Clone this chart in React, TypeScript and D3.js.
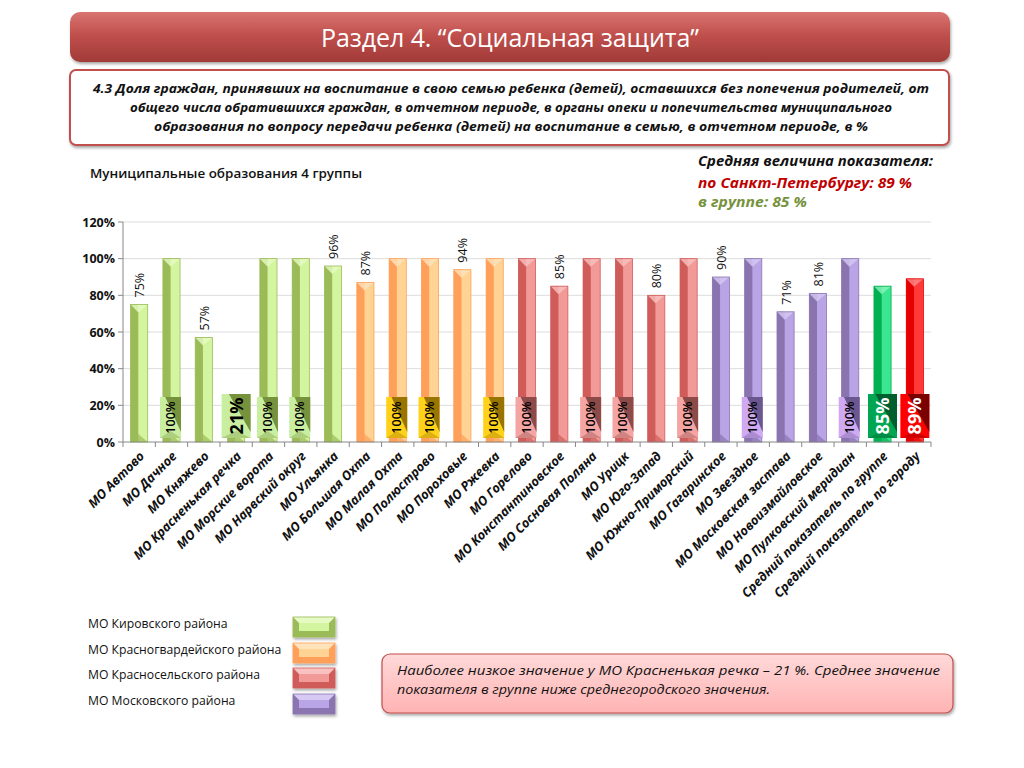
import * as d3 from 'd3'

const categories = [
  'МО Автово', 'МО Дачное', 'МО Княжево', 'МО Красненькая речка', 'МО Морские ворота',
  'МО Нарвский округ', 'МО Ульянка', 'МО Большая Охта', 'МО Малая Охта', 'МО Полюстрово',
  'МО Пороховые', 'МО Ржевка', 'МО Горелово', 'МО Константиновское', 'МО Сосновая Поляна',
  'МО Урицк', 'МО Юго-Запад', 'МО Южно-Приморский', 'МО Гагаринское', 'МО Звездное',
  'МО Московская застава', 'МО Новоизмайловское', 'МО Пулковский меридиан',
  'Средний показатель по группе', 'Средний показатель по городу',
]
const values = [75, 100, 57, 21, 100, 100, 96, 87, 100, 100, 94, 100, 100, 85, 100, 100, 80, 100, 90, 100, 71, 81, 100, 85, 89]
const groups = [
  'kir', 'kir', 'kir', 'kir', 'kir', 'kir', 'kir',
  'krg', 'krg', 'krg', 'krg', 'krg',
  'krs', 'krs', 'krs', 'krs', 'krs', 'krs',
  'mos', 'mos', 'mos', 'mos', 'mos',
  'grp', 'city',
]
const yTicks = [0, 20, 40, 60, 80, 100, 120]
const legendLabels = ['МО Кировского района', 'МО Красногвардейского района', 'МО Красносельского района', 'МО Московского района']
const legendGroups = ['kir', 'krg', 'krs', 'mos']

const palette: Record<string, { dark: string; light: string; top: string; boxLight: string; boxDark: string; text: string }> = {
  kir: { dark: '#9bbb59', light: '#d4f5a0', top: '#e6fbc4', boxLight: '#c9eea0', boxDark: '#76923c', text: '#000' },
  krg: { dark: '#ffa05a', light: '#ffd394', top: '#ffe3bd', boxLight: '#ffd21a', boxDark: '#9a7400', text: '#000' },
  krs: { dark: '#d05c5a', light: '#f29a98', top: '#f9c2c0', boxLight: '#f4a4a2', boxDark: '#8c4a48', text: '#000' },
  mos: { dark: '#8a74b0', light: '#b9a5e6', top: '#d6c9f3', boxLight: '#cfaaf3', boxDark: '#6b578f', text: '#000' },
  grp: { dark: '#00b050', light: '#3ae68f', top: '#8cf5bd', boxLight: '#00a551', boxDark: '#005f2e', text: '#fff' },
  city: { dark: '#e50000', light: '#ff3838', top: '#ff8c8c', boxLight: '#ff0000', boxDark: '#7a0000', text: '#fff' },
}

const font = '"Open Sans", sans-serif'
const minIdx = values.indexOf(d3.min(values.slice(0, 23)) as number)

const x = d3.scaleBand<string>().domain(categories).range([123, 931]).paddingInner(0.47).paddingOuter(0.235)
const y = d3.scaleLinear().domain([0, 120]).range([442, 222])
const step = x.step()

function Bar({ i }: { i: number }) {
  const c = palette[groups[i]]
  const x0 = x(categories[i]) as number
  const w = x.bandwidth()
  const yt = y(values[i])
  const yb = y(0)
  const m = x0 + w * 0.45
  return (
    <g>
      <rect x={x0} y={yt} width={w} height={yb - yt} fill={c.light} />
      <rect x={x0} y={yt} width={m - x0} height={yb - yt} fill={c.dark} />
      <polygon points={`${x0},${yt} ${x0 + w},${yt} ${m},${yt + 8}`} fill={c.top} opacity={0.8} />
      <polygon points={`${x0},${yb} ${x0 + w},${yb} ${m},${yb - 8}`} fill={c.dark} opacity={0.7} />
      <rect x={x0} y={yt} width={w} height={yb - yt} fill="none" stroke={c.dark} strokeWidth={0.8} />
    </g>
  )
}

function Label({ i }: { i: number }) {
  const c = palette[groups[i]]
  const v = values[i]
  const cx = (x(categories[i]) as number) + x.bandwidth() / 2
  const big = i === minIdx || i >= 23
  const boxed = v === 100 || big
  if (!boxed) {
    return (
      <text transform={`translate(${cx + 5},${y(v) - 7}) rotate(-90)`} fontFamily={font} fontSize={12.5} fontWeight={500} fill="#111">
        {v}%
      </text>
    )
  }
  const bw = big ? 29 : 21
  const bh = big ? 44 : 41
  const bx = cx - bw / 2 - (big ? 0 : 1)
  const by = 438 - bh
  return (
    <g>
      <rect x={bx} y={by} width={bw} height={bh} fill={c.boxLight} />
      <polygon points={`${bx + bw * 0.25},${by} ${bx + bw},${by} ${bx + bw},${by + bh - 6}`} fill={c.boxDark} />
      <polygon points={`${bx},${by + bh} ${bx + bw},${by + bh} ${bx + bw / 2},${by + bh - 7}`} fill={c.boxDark} opacity={0.35} />
      <text
        transform={`translate(${bx + bw / 2 + (big ? 6.5 : 4.5)},${by + bh / 2}) rotate(-90)`}
        textAnchor="middle"
        fontFamily={font}
        fontWeight={big ? 700 : 600}
        fontSize={big ? 18 : 12.5}
        fill={c.text}
      >
        {v}%
      </text>
    </g>
  )
}

function Swatch({ g, yy }: { g: string; yy: number }) {
  const c = palette[g]
  const sx = 293
  const sw = 42
  const sh = 20
  return (
    <g filter="url(#sh)">
      <rect x={sx} y={yy} width={sw} height={sh} fill={c.dark} />
      <polygon points={`${sx},${yy} ${sx + sw},${yy} ${sx + sw - 6},${yy + 6} ${sx + 6},${yy + 6}`} fill={c.top} />
      <rect x={sx + 6} y={yy + 6} width={sw - 12} height={sh - 12} fill={c.light} />
      <rect x={sx} y={yy} width={sw} height={sh} fill="none" stroke={c.dark} strokeWidth={0.8} />
    </g>
  )
}

export default function App() {
  const legendY = [617, 643, 668, 694]
  return (
    <div style={{ position: 'absolute', left: 0, top: 0 }}>
      <svg width={1024} height={768} style={{ display: 'block', background: '#fff' }}>
        <defs>
          <linearGradient id="ttl" x1="0" y1="0" x2="0" y2="1">
            <stop offset="0" stopColor="#d97470" />
            <stop offset="0.45" stopColor="#c0504d" />
            <stop offset="1" stopColor="#a13a37" />
          </linearGradient>
          <linearGradient id="note" x1="0" y1="0" x2="0" y2="1">
            <stop offset="0" stopColor="#ffd9d9" />
            <stop offset="1" stopColor="#ffb3b3" />
          </linearGradient>
          <filter id="sh" x="-10%" y="-10%" width="120%" height="140%">
            <feDropShadow dx="1" dy="2" stdDeviation="1.5" floodColor="#000" floodOpacity="0.35" />
          </filter>
        </defs>

        {/* title banner */}
        <rect x={70} y={12} width={880} height={50} rx={10} fill="url(#ttl)" filter="url(#sh)" />
        <text x={510} y={47} textAnchor="middle" fontFamily={font} fontSize={25} fill="#fff" textLength={378}>
          Раздел 4. “Социальная защита”
        </text>

        {/* subtitle */}
        <rect x={70} y={70} width={879} height={75} rx={6} fill="#fff" stroke="#c0504d" strokeWidth={2} filter="url(#sh)" />
        <g fontFamily={font} fontStyle="italic" fontWeight={700} fontSize={12.5} fill="#111" textAnchor="middle">
          <text x={511} y={93} textLength={836} lengthAdjust="spacingAndGlyphs">
            4.3 Доля граждан, принявших на воспитание в свою семью ребенка (детей), оставшихся без попечения родителей, от
          </text>
          <text x={511} y={112} textLength={762} lengthAdjust="spacingAndGlyphs">
            общего числа обратившихся граждан, в отчетном периоде, в органы опеки и попечительства  муниципального
          </text>
          <text x={511} y={131} textLength={714} lengthAdjust="spacingAndGlyphs">
            образования по вопросу передачи ребенка (детей) на воспитание в семью, в  отчетном периоде,  в %
          </text>
        </g>

        <text x={90} y={178} fontFamily={font} fontSize={12.5} fontWeight={600} fill="#111" textLength={272} lengthAdjust="spacingAndGlyphs">
          Муниципальные образования 4 группы
        </text>
        <g fontFamily={font} fontStyle="italic" fontWeight={700}>
          <text x={698} y={166} fontSize={14.5} fill="#111" textLength={235} lengthAdjust="spacingAndGlyphs">Средняя величина показателя:</text>
          <text x={698} y={188} fontSize={14} fill="#c00000" textLength={214} lengthAdjust="spacingAndGlyphs">по Санкт-Петербургу:  89 %</text>
          <text x={698} y={207} fontSize={14} fill="#76923c" textLength={109} lengthAdjust="spacingAndGlyphs">в группе:  85 %</text>
        </g>

        {/* grid + y axis */}
        {yTicks.map((t) => (
          <g key={t}>
            {t > 0 && <line x1={123} x2={931} y1={y(t)} y2={y(t)} stroke="#dcdcdc" />}
            <line x1={118} x2={123} y1={y(t)} y2={y(t)} stroke="#888" />
            <text x={115} y={y(t) + 4.5} textAnchor="end" fontFamily={font} fontSize={12.5} fontWeight={700} fill="#111">
              {t}%
            </text>
          </g>
        ))}
        <line x1={123} x2={123} y1={222} y2={442} stroke="#888" />

        {categories.map((_, i) => <Bar key={i} i={i} />)}

        <line x1={123} x2={931} y1={442} y2={442} stroke="#888" />
        {d3.range(categories.length + 1).map((k) => (
          <line key={k} x1={123 + k * step} x2={123 + k * step} y1={442} y2={447} stroke="#888" />
        ))}

        {categories.map((_, i) => <Label key={i} i={i} />)}

        {categories.map((c) => (
          <text
            key={c}
            transform={`translate(${(x(c) as number) + x.bandwidth() / 2 + 6},${457}) rotate(-45)`}
            textAnchor="end"
            fontFamily={font}
            fontStyle="italic"
            fontWeight={700}
            fontSize={12.8}
            fill="#111"
          >
            {c}
          </text>
        ))}

        {/* legend */}
        {legendLabels.map((l, k) => (
          <g key={l}>
            <text x={88} y={legendY[k] + 11} fontFamily={font} fontSize={12.2} fill="#111">{l}</text>
            <Swatch g={legendGroups[k]} yy={legendY[k]} />
          </g>
        ))}

        {/* note */}
        <rect x={382} y={654} width={571} height={59} rx={8} fill="url(#note)" stroke="#c0504d" strokeWidth={1.2} filter="url(#sh)" />
        <g fontFamily={font} fontStyle="italic" fontSize={12.5} fill="#111">
          <text x={397} y={675} textLength={543} lengthAdjust="spacingAndGlyphs">
            Наиболее низкое значение у МО Красненькая речка – 21 %. Среднее значение
          </text>
          <text x={397} y={694} textLength={373} lengthAdjust="spacingAndGlyphs">
            показателя в группе ниже среднегородского значения.
          </text>
        </g>
      </svg>
    </div>
  )
}
